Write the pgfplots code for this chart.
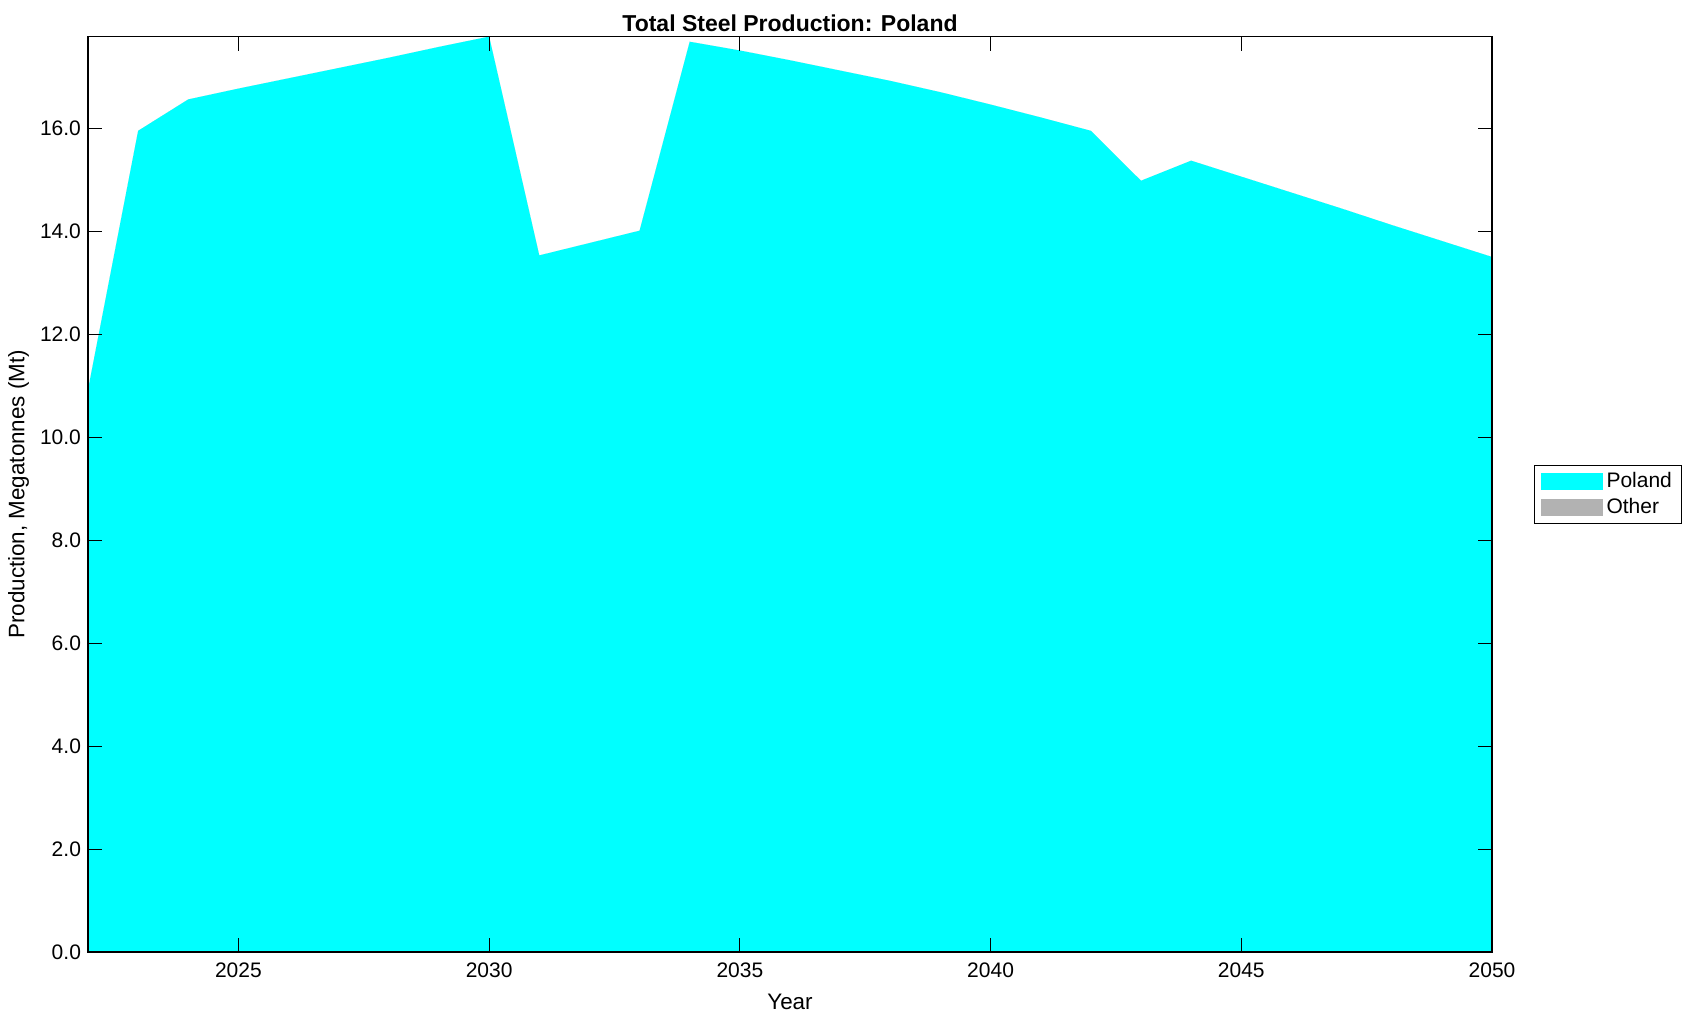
\documentclass[border=0pt]{standalone}
\usepackage{pgfplots}
\pgfplotsset{compat=1.18}
\usepackage{fontspec}
\setmainfont{Liberation Sans}
\definecolor{othergray}{rgb}{0.7,0.7,0.7}
\definecolor{pcyan}{rgb}{0,1,1}
\begin{document}
\begin{tikzpicture}
\path (-44pt,-34.5pt) rectangle (801pt,476pt);
\begin{axis}[
  at={(0pt,0pt)}, anchor=south west,
  scale only axis, width=702pt, height=457.7pt,
  xmin=2022, xmax=2050, ymin=0, ymax=17.78,
  axis on top,
  stack plots=y,
  tick align=inside,
  major tick length=7pt,
  xtick={2025,2030,2035,2040,2045,2050},
  ytick={0,2,4,6,8,10,12,14,16},
  /pgf/number format/assume math mode=true,
  xticklabel style={/pgf/number format/1000 sep={}, font=\fontsize{10.5}{12}\selectfont, yshift=-2pt},
  yticklabel style={/pgf/number format/.cd, fixed, fixed zerofill, precision=1, /tikz/.cd, font=\fontsize{10.5}{12}\selectfont},
  title={\textbf{Total Steel Production: Poland}},
  title style={font=\fontsize{11.5}{13}\selectfont, yshift=-7pt},
  xlabel={\fontsize{11.2}{13}\selectfont Year},
  ylabel={\fontsize{11.2}{13}\selectfont Production, Megatonnes (Mt)},
  every axis x label/.style={at={(axis description cs:0.5,-0.0545)}, anchor=center},
  every axis y label/.style={at={(axis description cs:-0.0495,0.5)}, anchor=center, rotate=90},
  axis line style={black, line width=0.6pt},
  tick style={black, line width=0.5pt},
  legend style={at={(rel axis cs:1,0.5)}, anchor=west, xshift=21pt, draw=black, line width=0.5pt,
    font=\fontsize{10.5}{12}\selectfont, row sep=0pt, inner xsep=3pt, inner ysep=1.5pt,
    cells={anchor=west}},
  legend image code/.code={\path[#1, draw=none] (0pt,-4.2pt) rectangle (31pt,4.2pt);},
]
\addplot[fill=pcyan, draw=none] coordinates {
(2022,10.92) (2023,15.95) (2024,16.56) (2025,16.77) (2026,16.97) (2027,17.17)
(2028,17.37) (2029,17.58) (2030,17.78) (2031,13.53) (2032,13.77) (2033,14.01)
(2034,17.68) (2035,17.51) (2036,17.32) (2037,17.12) (2038,16.92) (2039,16.70)
(2040,16.46) (2041,16.21) (2042,15.95) (2043,14.98) (2044,15.37) (2045,15.06)
(2046,14.75) (2047,14.44) (2048,14.12) (2049,13.81) (2050,13.50)
} \closedcycle;
\addlegendentry{Poland}
\addplot[fill=othergray, draw=none] coordinates {
(2022,0) (2023,0) (2024,0) (2025,0) (2026,0) (2027,0) (2028,0) (2029,0) (2030,0)
(2031,0) (2032,0) (2033,0) (2034,0) (2035,0) (2036,0) (2037,0) (2038,0) (2039,0)
(2040,0) (2041,0) (2042,0) (2043,0) (2044,0) (2045,0) (2046,0) (2047,0) (2048,0)
(2049,0) (2050,0)
} \closedcycle;
\addlegendentry{Other}
\end{axis}
\end{tikzpicture}
\end{document}
